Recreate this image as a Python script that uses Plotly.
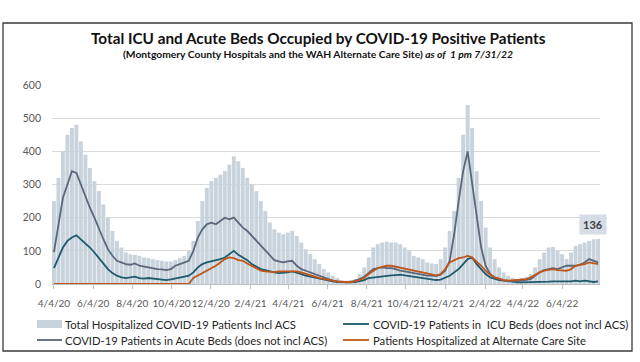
import pandas as pd
import plotly.graph_objects as go

# Weekly readings (4/4/20 .. 7/30/22)
dates = pd.date_range("2020-04-04", periods=122, freq="7D")

total_hosp = [250, 320, 400, 450, 470, 480, 430, 390, 350, 310,
              280, 240, 200, 160, 130, 110, 95, 90, 88, 85,
              80, 78, 75, 72, 70, 68, 68, 72, 78, 85,
              100, 130, 190, 250, 290, 310, 320, 330, 340, 360,
              385, 370, 350, 320, 300, 280, 250, 220, 185, 165,
              155, 150, 155, 160, 145, 125, 105, 90, 75, 60,
              45, 35, 25, 18, 12, 10, 12, 15, 30, 50,
              80, 110, 120, 125, 128, 125, 125, 120, 110, 100,
              85, 80, 75, 65, 62, 60, 75, 110, 160, 220,
              320, 450, 540, 470, 340, 250, 170, 110, 75, 50,
              35, 25, 18, 15, 18, 22, 30, 50, 75, 95,
              110, 112, 100, 90, 75, 95, 115, 120, 125, 130,
              135, 136]

icu_beds = [48, 80, 110, 130, 140, 147, 135, 120, 110, 95,
            78, 60, 45, 33, 25, 20, 18, 20, 22, 18,
            16, 18, 16, 14, 13, 12, 14, 16, 18, 22,
            25, 35, 50, 60, 65, 68, 70, 75, 80, 90,
            100, 88, 80, 72, 60, 52, 45, 42, 38, 35,
            33, 33, 35, 38, 35, 30, 25, 22, 18, 15,
            12, 10, 8, 6, 5, 5, 5, 6, 8, 12,
            18, 20, 22, 24, 25, 26, 27, 28, 26, 24,
            22, 20, 18, 15, 13, 12, 13, 18, 25, 35,
            45, 60, 75, 80, 60, 45, 30, 20, 15, 12,
            10, 8, 5, 5, 5, 5, 5, 6, 6, 7,
            7, 8, 8, 6, 6, 8, 10, 8, 10, 8,
            6, 8]

acute_beds = [96, 180, 260, 300, 340, 335, 300, 260, 230, 200,
              165, 135, 105, 85, 70, 65, 60, 58, 62, 55,
              52, 50, 48, 45, 44, 42, 45, 55, 60, 65,
              70, 100, 140, 165, 180, 185, 180, 190, 200, 195,
              200, 185, 170, 160, 145, 130, 115, 100, 85, 72,
              68, 65, 68, 70, 55, 45, 40, 35, 30, 25,
              20, 15, 10, 8, 6, 5, 6, 10, 15, 22,
              35, 45, 48, 50, 48, 48, 45, 40, 38, 35,
              33, 30, 28, 25, 25, 24, 28, 40, 70, 150,
              250, 340, 400, 300, 200, 110, 55, 30, 20, 15,
              12, 10, 8, 8, 10, 12, 15, 25, 35, 42,
              45, 48, 45, 50, 55, 55, 55, 58, 65, 75,
              70, 65]

alt_care_site = [0, 0, 0, 0, 0, 0, 0, 0, 0, 0,
                 0, 0, 0, 0, 0, 0, 0, 0, 0, 0,
                 0, 0, 0, 0, 0, 0, 0, 0, 0, 0,
                 0, 18, 25, 32, 40, 48, 55, 65, 75, 80,
                 78, 72, 70, 62, 55, 48, 40, 38, 36, 36,
                 38, 38, 40, 40, 38, 35, 30, 27, 22, 18,
                 15, 12, 10, 8, 6, 5, 6, 8, 12, 18,
                 30, 40, 48, 52, 55, 55, 52, 50, 45, 42,
                 40, 38, 35, 30, 28, 26, 30, 45, 65, 72,
                 78, 80, 85, 80, 68, 55, 40, 28, 20, 15,
                 12, 10, 10, 12, 14, 15, 20, 28, 35, 40,
                 42, 45, 42, 42, 40, 45, 55, 58, 60, 65,
                 62, 60]

tick_dates = ["2020-04-04", "2020-06-04", "2020-08-04", "2020-10-04", "2020-12-04",
              "2021-02-04", "2021-04-04", "2021-06-04", "2021-08-04", "2021-10-04",
              "2021-12-04", "2022-02-04", "2022-04-04", "2022-06-04"]
tick_labels = ["4/4/20", "6/4/20", "8/4/20", "10/4/20", "12/4/20",
               "2/4/21", "4/4/21", "6/4/21", "8/4/21", "10/4/21",
               "12/4/21", "2/4/22", "4/4/22", "6/4/22"]

series_names = ["Total Hospitalized COVID-19 Patients Incl ACS",
                "COVID-19 Patients in  ICU Beds (does not incl ACS)",
                "COVID-19 Patients in Acute Beds (does not incl ACS)",
                "Patients Hospitalized at Alternate Care Site"]

C_BAR = "#c9d3dc"
C_ICU = "#1f5a6e"
C_ACUTE = "#5b687c"
C_ACS = "#c0561a"

FONT = "Lato"

fig = go.Figure()
fig.add_trace(go.Bar(x=dates, y=total_hosp, name=series_names[0],
                     marker=dict(color=C_BAR, line=dict(width=0)),
                     width=6.1 * 86400000))
fig.add_trace(go.Scatter(x=dates, y=icu_beds, name=series_names[1], mode="lines",
                         line=dict(color=C_ICU, width=1.8)))
fig.add_trace(go.Scatter(x=dates, y=acute_beds, name=series_names[2], mode="lines",
                         line=dict(color=C_ACUTE, width=1.8)))
fig.add_trace(go.Scatter(x=dates, y=alt_care_site, name=series_names[3], mode="lines",
                         line=dict(color=C_ACS, width=1.8)))

L, R, T, B = 52, 40, 85, 78
PW, PH = 640 - L - R, 362 - T - B


def px(x):
    return (x - L) / PW


def py(y):
    return (362 - B - y) / PH


shapes = [
    dict(type="rect", xref="paper", yref="paper", x0=px(3), x1=px(632), y0=py(351), y1=py(23),
         line=dict(color="#3a3a3a", width=1.3), fillcolor="rgba(0,0,0,0)", layer="above"),
    # legend swatches
    dict(type="rect", xref="paper", yref="paper", x0=px(37), x1=px(62), y0=py(328), y1=py(320),
         line=dict(width=0), fillcolor=C_BAR),
    dict(type="line", xref="paper", yref="paper", x0=px(343), x1=px(369), y0=py(324), y1=py(324),
         line=dict(color=C_ICU, width=1.8)),
    dict(type="line", xref="paper", yref="paper", x0=px(37), x1=px(62), y0=py(340), y1=py(340),
         line=dict(color=C_ACUTE, width=1.8)),
    dict(type="line", xref="paper", yref="paper", x0=px(343), x1=px(369), y0=py(340), y1=py(340),
         line=dict(color=C_ACS, width=1.8)),
]

annotations = [
    dict(text="<b>Total ICU and Acute Beds Occupied by COVID-19 Positive Patients</b>",
         xref="paper", yref="paper", x=px(318), y=py(38), showarrow=False,
         xanchor="center", yanchor="middle", font=dict(family=FONT, size=15.3, color="#111111")),
    dict(text="<b>(Montgomery County Hospitals and the WAH Alternate Care Site) <i>as of  1 pm 7/31/22</i></b>",
         xref="paper", yref="paper", x=px(318), y=py(54), showarrow=False,
         xanchor="center", yanchor="middle", font=dict(family=FONT, size=10.3, color="#111111")),
    dict(text=series_names[0], xref="paper", yref="paper", x=px(63), y=py(324),
         showarrow=False, xanchor="left", yanchor="middle",
         font=dict(family=FONT, size=11.3, color="#262626")),
    dict(text=series_names[1], xref="paper", yref="paper", x=px(371), y=py(324),
         showarrow=False, xanchor="left", yanchor="middle",
         font=dict(family=FONT, size=11.3, color="#262626")),
    dict(text=series_names[2], xref="paper", yref="paper", x=px(63), y=py(340),
         showarrow=False, xanchor="left", yanchor="middle",
         font=dict(family=FONT, size=11.3, color="#262626")),
    dict(text=series_names[3], xref="paper", yref="paper", x=px(371), y=py(340),
         showarrow=False, xanchor="left", yanchor="middle",
         font=dict(family=FONT, size=11.3, color="#262626")),
    dict(text="<b>%d</b>" % total_hosp[-1], x=dates[-1], y=total_hosp[-1], xref="x", yref="y",
         showarrow=False, xanchor="center", yanchor="middle", yshift=14, xshift=-5,
         bgcolor="#d6dde6", borderpad=3,
         font=dict(family=FONT, size=11, color="#404040")),
]

fig.update_layout(
    width=640, height=362,
    margin=dict(l=L, r=R, t=T, b=B),
    paper_bgcolor="white", plot_bgcolor="white",
    showlegend=False,
    shapes=shapes, annotations=annotations,
    font=dict(family=FONT),
)
fig.update_xaxes(
    range=["2020-04-01", "2022-08-02"],
    tickvals=tick_dates, ticktext=tick_labels, tickangle=0,
    tickfont=dict(family=FONT, size=10, color="#595959"),
    showgrid=False, showline=True, linecolor="#bfbfbf", linewidth=1,
    ticks="outside", ticklen=4, tickcolor="#bfbfbf", ticklabelstandoff=6,
    automargin=False,
)
fig.update_yaxes(
    range=[0, 600], tickvals=[0, 100, 200, 300, 400, 500, 600],
    tickfont=dict(family=FONT, size=10.5, color="#595959"),
    showgrid=True, gridcolor="#d9d9d9", gridwidth=1, zeroline=False,
    ticklabelstandoff=10, automargin=False,
)

fig.write_html("out.html", config={"displayModeBar": False},
               post_script="document.body.style.margin='0';document.body.style.overflow='hidden';")
